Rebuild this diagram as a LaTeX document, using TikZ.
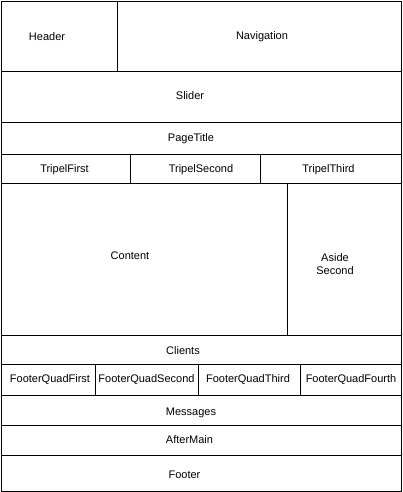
\documentclass[tikz,border=0pt]{standalone}
\usepackage{fontspec}
\setmainfont{Liberation Sans}
\begin{document}
\begin{tikzpicture}[x=1pt,y=-1pt,
  frame/.style={draw=black,line width=1pt},
  lbl/.style={inner sep=0pt,font=\fontsize{11}{13}\selectfont,align=center}]
\useasboundingbox (0,0) rectangle (402,492);
\fill[white] (0,0) rectangle (402,492);
% outer frame
\draw[frame] (1.5,1.5) rectangle (401,491);
% horizontal rules
\foreach \y in {71.5,122.5,154.5,183.5,335.5,364.5,395.5,425.5,455.5}
  \draw[frame] (1.5,\y) -- (401,\y);
% vertical rules
\draw[frame] (117.5,1.5) -- (117.5,71.5);
\draw[frame] (130.5,154.5) -- (130.5,183.5);
\draw[frame] (260.5,154.5) -- (260.5,183.5);
\draw[frame] (287.5,183.5) -- (287.5,335.5);
\draw[frame] (95.5,364.5) -- (95.5,395.5);
\draw[frame] (198.5,364.5) -- (198.5,395.5);
\draw[frame] (300.5,364.5) -- (300.5,395.5);
% labels
\node[lbl] (header) at (47,36.5) {Header};
\node[lbl] (nav) at (262,36.5) {Navigation};
\node[lbl] (slider) at (190,96) {Slider};
\node[lbl] (pagetitle) at (191,138.5) {PageTitle};
\node[lbl] (t1) at (64.5,170) {TripelFirst};
\node[lbl] (t2) at (201,170) {TripelSecond};
\node[lbl] (t3) at (328.5,170) {TripelThird};
\node[lbl] (content) at (130,256) {Content};
\node[lbl] (aside) at (335,264) {Aside\\Second};
\node[lbl] (clients) at (183,351) {Clients};
\node[lbl] (q1) at (50,379.5) {FooterQuadFirst};
\node[lbl] (q2) at (146.5,379.5) {FooterQuadSecond};
\node[lbl] (q3) at (248,379.5) {FooterQuadThird};
\node[lbl] (q4) at (351,379.5) {FooterQuadFourth};
\node[lbl] (messages) at (191,412.5) {Messages};
\node[lbl] (aftermain) at (189.5,440) {AfterMain};
\node[lbl] (footer) at (184.5,474.5) {Footer};
\end{tikzpicture}
\end{document}
